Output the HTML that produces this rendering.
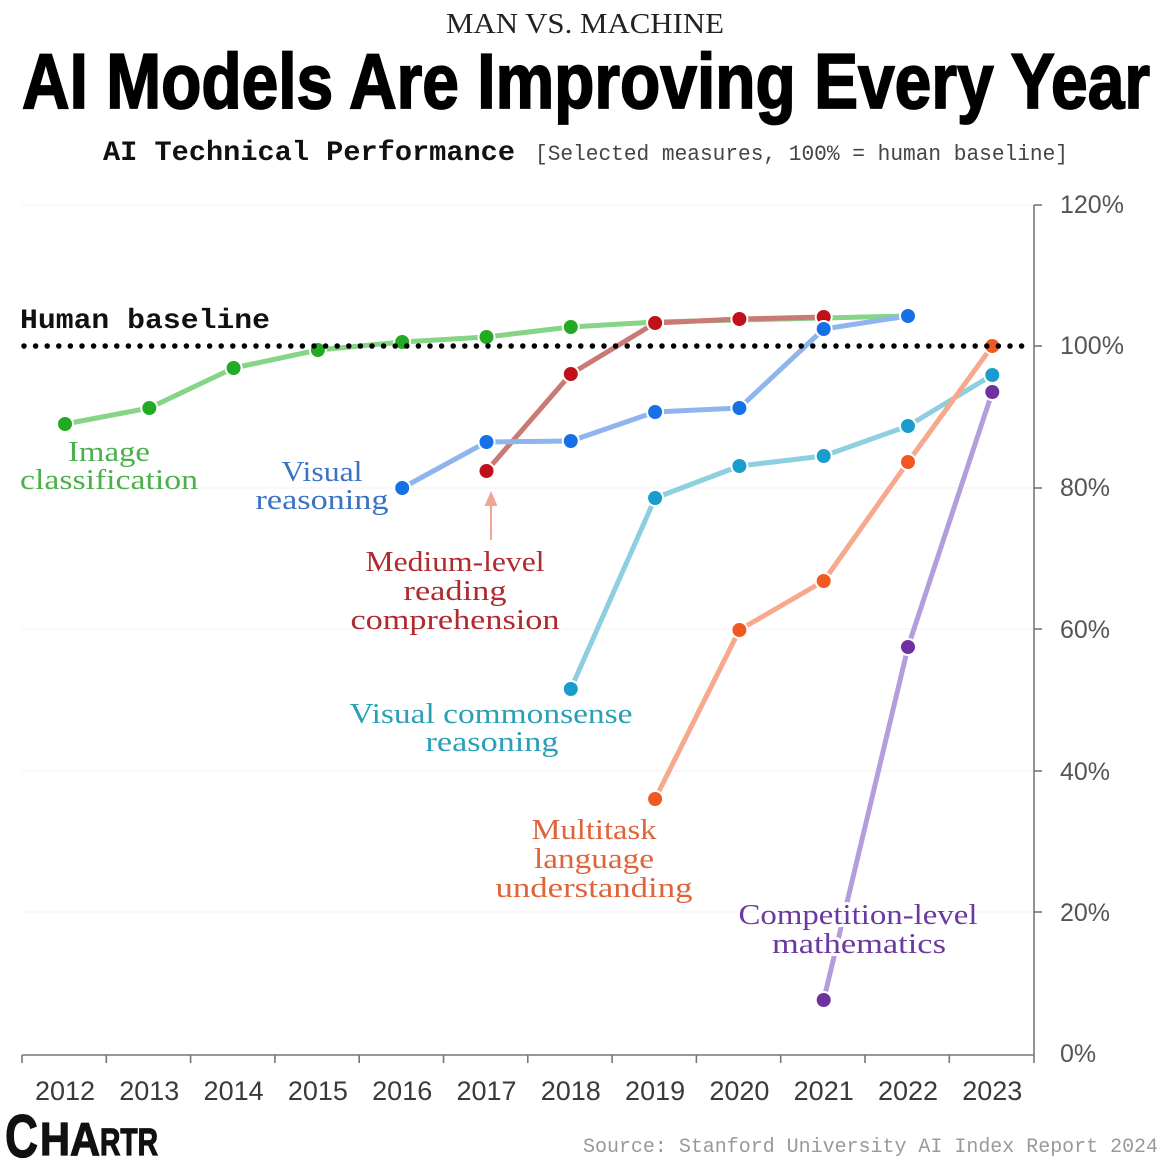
<!DOCTYPE html>
<html>
<head>
<meta charset="utf-8">
<style>
  html, body { margin: 0; padding: 0; background: #ffffff; }
  body { width: 1170px; height: 1162px; overflow: hidden; }
  svg { display: block; }
  .lbl { font-family: "Liberation Serif", serif; font-size: 28px; text-anchor: middle; stroke: #ffffff; stroke-width: 6px; paint-order: stroke; stroke-linejoin: round; }
  .yr { font-family: "Liberation Sans", sans-serif; font-size: 27px; fill: #3a3a3a; text-anchor: middle; }
  .yl { font-family: "Liberation Sans", sans-serif; font-size: 25px; fill: #555; }
  .ln { fill: none; stroke-width: 5; stroke-linejoin: round; stroke-linecap: round; }
  .pt { stroke: #fff; stroke-width: 2; }
</style>
</head>
<body>
<svg width="1170" height="1162" viewBox="0 0 1170 1162" xmlns="http://www.w3.org/2000/svg">
  <!-- Titles -->
  <text x="446" y="33" font-family="Liberation Serif, serif" font-size="29" fill="#222" textLength="278" lengthAdjust="spacingAndGlyphs">MAN VS. MACHINE</text>
  <text x="22" y="108" font-family="Liberation Sans, sans-serif" font-weight="bold" font-size="78" fill="#000" stroke="#000" stroke-width="1.8" textLength="1128" lengthAdjust="spacingAndGlyphs">AI Models Are Improving Every Year</text>
  <text x="103" y="160" font-family="Liberation Mono, monospace" font-weight="bold" font-size="28" fill="#111" textLength="412" lengthAdjust="spacingAndGlyphs">AI Technical Performance</text>
  <text x="535" y="160" font-family="Liberation Mono, monospace" font-size="22" fill="#444" textLength="533" lengthAdjust="spacingAndGlyphs">[Selected measures, 100% = human baseline]</text>

  <!-- Gridlines -->
  <g stroke="#f5f5f5" stroke-width="1.5">
    <line x1="22" y1="205" x2="1034" y2="205"/>
    <line x1="22" y1="488" x2="1034" y2="488"/>
    <line x1="22" y1="629" x2="1034" y2="629"/>
    <line x1="22" y1="771" x2="1034" y2="771"/>
    <line x1="22" y1="912" x2="1034" y2="912"/>
  </g>

  <!-- Axes -->
  <g stroke="#777" stroke-width="1.6" fill="none">
    <line x1="22" y1="1055" x2="1034" y2="1055"/>
    <line x1="1034" y1="205" x2="1034" y2="1055"/>
    <line x1="1034" y1="205" x2="1042" y2="205"/>
    <line x1="1034" y1="346" x2="1042" y2="346"/>
    <line x1="1034" y1="488" x2="1042" y2="488"/>
    <line x1="1034" y1="629" x2="1042" y2="629"/>
    <line x1="1034" y1="771" x2="1042" y2="771"/>
    <line x1="1034" y1="912" x2="1042" y2="912"/>
    <line x1="22" y1="1055" x2="22" y2="1063"/>
    <line x1="106.3" y1="1055" x2="106.3" y2="1063"/>
    <line x1="190.6" y1="1055" x2="190.6" y2="1063"/>
    <line x1="274.9" y1="1055" x2="274.9" y2="1063"/>
    <line x1="359.2" y1="1055" x2="359.2" y2="1063"/>
    <line x1="443.5" y1="1055" x2="443.5" y2="1063"/>
    <line x1="527.8" y1="1055" x2="527.8" y2="1063"/>
    <line x1="612.1" y1="1055" x2="612.1" y2="1063"/>
    <line x1="696.4" y1="1055" x2="696.4" y2="1063"/>
    <line x1="780.7" y1="1055" x2="780.7" y2="1063"/>
    <line x1="865" y1="1055" x2="865" y2="1063"/>
    <line x1="949.3" y1="1055" x2="949.3" y2="1063"/>
    <line x1="1034" y1="1055" x2="1034" y2="1063"/>
  </g>

  <!-- Y labels -->
  <text class="yl" x="1060" y="213">120%</text>
  <text class="yl" x="1060" y="354">100%</text>
  <text class="yl" x="1060" y="496">80%</text>
  <text class="yl" x="1060" y="638">60%</text>
  <text class="yl" x="1060" y="780">40%</text>
  <text class="yl" x="1060" y="921">20%</text>
  <text class="yl" x="1060" y="1062">0%</text>

  <!-- X labels -->
  <text class="yr" x="65" y="1100">2012</text>
  <text class="yr" x="149.3" y="1100">2013</text>
  <text class="yr" x="233.6" y="1100">2014</text>
  <text class="yr" x="317.9" y="1100">2015</text>
  <text class="yr" x="402.2" y="1100">2016</text>
  <text class="yr" x="486.5" y="1100">2017</text>
  <text class="yr" x="570.8" y="1100">2018</text>
  <text class="yr" x="655.1" y="1100">2019</text>
  <text class="yr" x="739.4" y="1100">2020</text>
  <text class="yr" x="823.7" y="1100">2021</text>
  <text class="yr" x="908" y="1100">2022</text>
  <text class="yr" x="992.3" y="1100">2023</text>

  <!-- Lines -->
  <polyline class="ln" stroke="#86d486" points="65,424 149.3,408 233.6,368 317.9,350 402.2,342 486.5,337 570.8,327 655.1,322 739.4,320 823.7,318 908,316"/>
  <polyline class="ln" stroke="#c97a72" points="486.5,471 570.8,374 655.1,323 739.4,319 823.7,317"/>
  <polyline class="ln" stroke="#8fb5ee" points="402.2,488 486.5,442 570.8,441 655.1,412 739.4,408 823.7,329 908,316"/>
  <polyline class="ln" stroke="#8dcfe0" points="570.8,689 655.1,498 739.4,466 823.7,456 908,426 992.3,375"/>
  <polyline class="ln" stroke="#f7a98e" points="655.1,799 739.4,630 823.7,581 908,462 992.3,346"/>
  <polyline class="ln" stroke="#b59ddb" points="823.7,1000 908,647 992.3,392"/>

  <!-- Points -->
  <g class="pt" fill="#22aa22">
    <circle cx="65" cy="424" r="8"/><circle cx="149.3" cy="408" r="8"/><circle cx="233.6" cy="368" r="8"/>
    <circle cx="317.9" cy="350" r="8"/><circle cx="402.2" cy="342" r="8"/><circle cx="486.5" cy="337" r="8"/>
    <circle cx="570.8" cy="327" r="8"/><circle cx="655.1" cy="322" r="8"/>
  </g>
  <g class="pt" fill="#c0101a">
    <circle cx="486.5" cy="471" r="8"/><circle cx="570.8" cy="374" r="8"/><circle cx="655.1" cy="323" r="8"/>
    <circle cx="739.4" cy="319" r="8"/><circle cx="823.7" cy="317" r="8"/>
  </g>
  <g class="pt" fill="#1670e6">
    <circle cx="402.2" cy="488" r="8"/><circle cx="486.5" cy="442" r="8"/><circle cx="570.8" cy="441" r="8"/>
    <circle cx="655.1" cy="412" r="8"/><circle cx="739.4" cy="408" r="8"/><circle cx="823.7" cy="329" r="8"/>
    <circle cx="908" cy="316" r="8"/>
  </g>
  <g class="pt" fill="#1a9ccc">
    <circle cx="570.8" cy="689" r="8"/><circle cx="655.1" cy="498" r="8"/><circle cx="739.4" cy="466" r="8"/>
    <circle cx="823.7" cy="456" r="8"/><circle cx="908" cy="426" r="8"/><circle cx="992.3" cy="375" r="8"/>
  </g>
  <g class="pt" fill="#f05a22">
    <circle cx="655.1" cy="799" r="8"/><circle cx="739.4" cy="630" r="8"/><circle cx="823.7" cy="581" r="8"/>
    <circle cx="908" cy="462" r="8"/><circle cx="992.3" cy="346" r="8"/>
  </g>
  <g class="pt" fill="#7030a0">
    <circle cx="823.7" cy="1000" r="8"/><circle cx="908" cy="647" r="8"/><circle cx="992.3" cy="392" r="8"/>
  </g>

  <!-- Human baseline dotted line -->
  <line x1="24" y1="346" x2="1028" y2="346" stroke="#000" stroke-width="5.5" stroke-linecap="round" stroke-dasharray="0 11.6"/>
  <text x="20" y="328" font-family="Liberation Mono, monospace" font-weight="bold" font-size="28" fill="#111" textLength="250" lengthAdjust="spacingAndGlyphs">Human baseline</text>

  <!-- Arrow -->
  <line x1="491" y1="540" x2="491" y2="504" stroke="#f0a596" stroke-width="2"/>
  <polygon points="491,491 484.5,506 497.5,506" fill="#f0a596"/>

  <!-- Series labels -->
  <g class="lbl" fill="#4cb04c">
    <text x="109" y="461" textLength="82" lengthAdjust="spacingAndGlyphs">Image</text>
    <text x="109" y="489" textLength="178" lengthAdjust="spacingAndGlyphs">classification</text>
  </g>
  <g class="lbl" fill="#3a72c4">
    <text x="322" y="481" textLength="81" lengthAdjust="spacingAndGlyphs">Visual</text>
    <text x="322" y="509" textLength="133" lengthAdjust="spacingAndGlyphs">reasoning</text>
  </g>
  <g class="lbl" fill="#b02a2e">
    <text x="455" y="571" textLength="179" lengthAdjust="spacingAndGlyphs">Medium-level</text>
    <text x="455" y="600" textLength="103" lengthAdjust="spacingAndGlyphs">reading</text>
    <text x="455" y="629" textLength="209" lengthAdjust="spacingAndGlyphs">comprehension</text>
  </g>
  <g class="lbl" fill="#2aa0b8">
    <text x="491" y="723" textLength="283" lengthAdjust="spacingAndGlyphs">Visual commonsense</text>
    <text x="492" y="751" textLength="133" lengthAdjust="spacingAndGlyphs">reasoning</text>
  </g>
  <g class="lbl" fill="#e0643a">
    <text x="594" y="839" textLength="125" lengthAdjust="spacingAndGlyphs">Multitask</text>
    <text x="594" y="868" textLength="120" lengthAdjust="spacingAndGlyphs">language</text>
    <text x="594" y="897" textLength="197" lengthAdjust="spacingAndGlyphs">understanding</text>
  </g>
  <g class="lbl" fill="#6a3aa0">
    <text x="858" y="924" textLength="239" lengthAdjust="spacingAndGlyphs">Competition-level</text>
    <text x="859" y="953" textLength="174" lengthAdjust="spacingAndGlyphs">mathematics</text>
  </g>

  <!-- Footer -->
  <g font-family="Liberation Sans, sans-serif" font-weight="bold" fill="#111" stroke="#111" stroke-width="1.2">
    <text x="5" y="1157" font-size="60" textLength="33" lengthAdjust="spacingAndGlyphs">C</text>
    <text x="40" y="1155" font-size="46" textLength="60" lengthAdjust="spacingAndGlyphs">HA</text>
    <text x="100" y="1155" font-size="38" textLength="58" lengthAdjust="spacingAndGlyphs">RTR</text>
  </g>
  <text x="583" y="1152" font-family="Liberation Mono, monospace" font-size="20" fill="#999" textLength="575" lengthAdjust="spacingAndGlyphs">Source: Stanford University AI Index Report 2024</text>
</svg>
</body>
</html>
